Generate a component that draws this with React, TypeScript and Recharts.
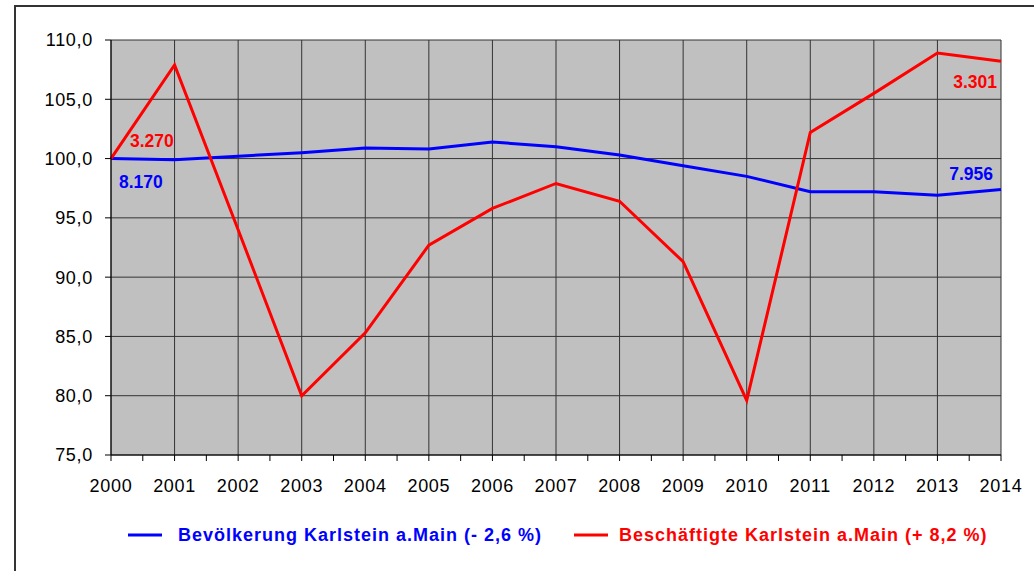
import React from "react"
import {
  LineChart,
  Line,
  XAxis,
  YAxis,
  CartesianGrid,
  ReferenceLine,
  Legend,
  LabelList,
} from "recharts"

const years = [2000, 2001, 2002, 2003, 2004, 2005, 2006, 2007, 2008, 2009, 2010, 2011, 2012, 2013, 2014]
const population = [100.0, 99.9, 100.2, 100.5, 100.9, 100.8, 101.4, 101.0, 100.3, 99.4, 98.5, 97.2, 97.2, 96.9, 97.4]
const employees = [100.0, 107.9, 94.0, 80.0, 85.3, 92.7, 95.8, 97.9, 96.4, 91.3, 79.6, 102.2, 105.5, 108.9, 108.2]
const yTicks = [75, 80, 85, 90, 95, 100, 105, 110]
const popLabels = ["8.170", "7.956"]
const empLabels = ["3.270", "3.301"]
const popName = "Bevölkerung Karlstein a.Main (- 2,6 %)"
const empName = "Beschäftigte Karlstein a.Main (+ 8,2 %)"

const BLUE = "#0000FF"
const RED = "#FF0000"
const FONT = "'Liberation Sans', Arial, sans-serif"

const data = years.map((y, i) => ({ year: y, pop: population[i], emp: employees[i] }))
const xTicks = years.flatMap((y, i) => (i < years.length - 1 ? [y, y + 0.5] : [y]))

const fmtY = (v: number) => v.toFixed(1).replace(".", ",")
const fmtX = (v: number) => (Number.isInteger(v) ? String(v) : "")

const tickStyle = { fill: "#000", fontSize: 18, fontFamily: FONT, letterSpacing: 0.7 }

// end labels: first and last point only
const makeLabel = (labels: string[], color: string, first: [number, number], last: [number, number]) =>
  (props: any) => {
    const { x, y, index } = props
    const isFirst = index === 0
    const isLast = index === years.length - 1
    if (!isFirst && !isLast) return null
    const [dx, dy] = isFirst ? first : last
    return (
      <text
        x={x + dx}
        y={y + dy}
        fill={color}
        fontSize={17.5}
        fontWeight="bold"
        fontFamily={FONT}
        textAnchor={isFirst ? "start" : "end"}
      >
        {isFirst ? labels[0] : labels[1]}
      </text>
    )
  }

function ChartLegend() {
  const item = (left: number, gap: number, color: string, text: string) => (
    <div style={{ position: "absolute", left, top: 0, height: 60, display: "flex", alignItems: "center" }}>
      <svg width={34} height={6} style={{ marginRight: gap }}>
        <line x1={0} y1={3} x2={34} y2={3} stroke={color} strokeWidth={3} />
      </svg>
      <span
        style={{
          color,
          fontFamily: FONT,
          fontWeight: "bold",
          fontSize: 18,
          letterSpacing: 1,
          whiteSpace: "nowrap",
        }}
      >
        {text}
      </span>
    </div>
  )
  return (
    <div style={{ position: "relative", height: 60, width: 1034 }}>
      {item(128, 16, BLUE, popName)}
      {item(574, 11, RED, empName)}
    </div>
  )
}

export default function App() {
  return (
    <div style={{ position: "fixed", left: 0, top: 0, width: 1034, height: 571, overflow: "hidden", background: "#fff" }}>
      <div
        style={{
          position: "absolute",
          left: 14,
          top: 5,
          width: 1100,
          height: 700,
          borderLeft: "2px solid #333",
          borderTop: "2px solid #333",
        }}
      />
      <LineChart
        width={1034}
        height={571}
        data={data}
        margin={{ top: 40, right: 33, left: 0, bottom: 6 }}
        style={{ position: "absolute", left: 0, top: 0 }}
      >
        <CartesianGrid vertical={false} stroke="#333" fill="#C0C0C0" fillOpacity={1} />
        {years.map((y) => (
          <ReferenceLine key={y} x={y} stroke="#333" strokeWidth={1} />
        ))}
        <XAxis
          dataKey="year"
          type="number"
          domain={[2000, 2014]}
          ticks={xTicks}
          interval={0}
          tickFormatter={fmtX}
          stroke="#000"
          tickSize={6}
          tickMargin={18}
          height={50}
          tick={tickStyle}
        />
        <YAxis
          type="number"
          domain={[75, 110]}
          ticks={yTicks}
          interval={0}
          tickFormatter={fmtY}
          stroke="#000"
          tickSize={6}
          tickMargin={12}
          width={111}
          tick={tickStyle}
        />
        <Legend
          verticalAlign="bottom"
          content={() => <ChartLegend />}
          wrapperStyle={{ left: 0, width: 1034, height: 60 }}
        />
        <Line
          dataKey="pop"
          name={popName}
          stroke={BLUE}
          strokeWidth={3}
          dot={false}
          type="linear"
          isAnimationActive={false}
        >
          <LabelList dataKey="pop" content={makeLabel(popLabels, BLUE, [8, 29], [-8, -9])} />
        </Line>
        <Line
          dataKey="emp"
          name={empName}
          stroke={RED}
          strokeWidth={3}
          dot={false}
          type="linear"
          isAnimationActive={false}
        >
          <LabelList dataKey="emp" content={makeLabel(empLabels, RED, [19, -12], [-4, 27])} />
        </Line>
      </LineChart>
    </div>
  )
}
